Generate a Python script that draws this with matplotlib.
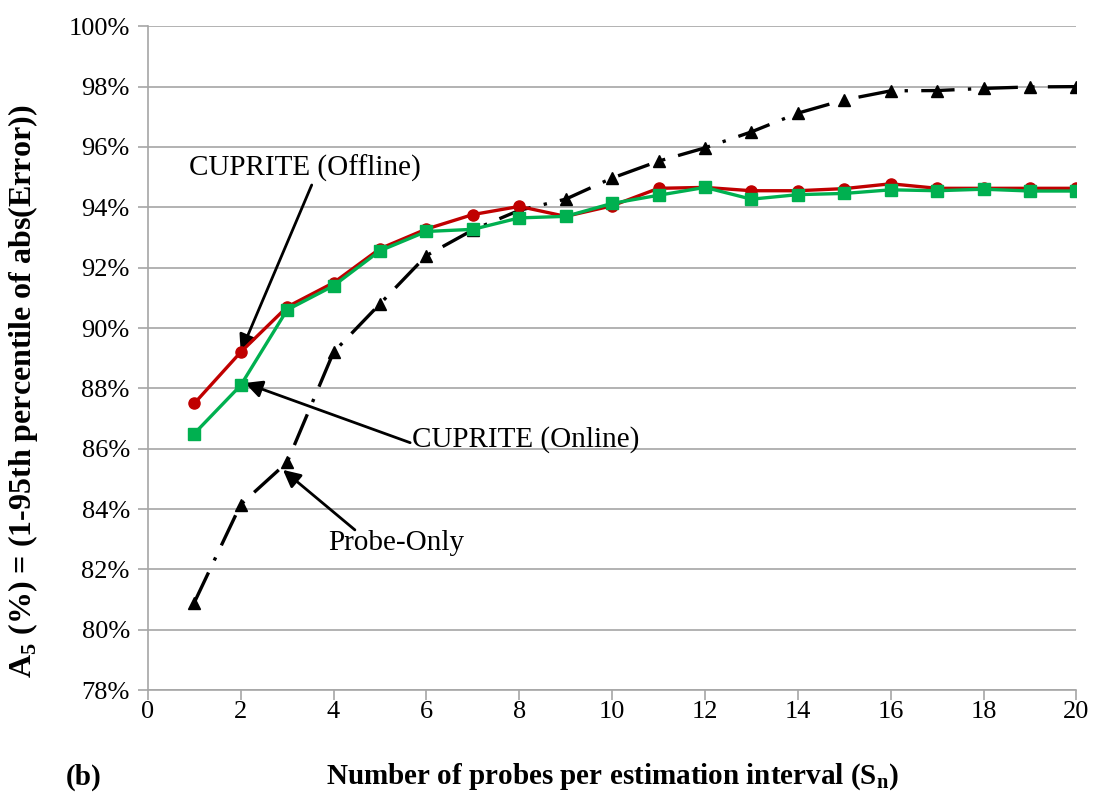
import matplotlib.pyplot as plt
from matplotlib.ticker import FuncFormatter

# Data (x = number of probes, y = A5 in %)
probes = list(range(1, 21))
offline = [87.5, 89.2, 90.7, 91.5, 92.63, 93.28, 93.76, 94.03, 93.7, 94.05,
           94.63, 94.66, 94.55, 94.55, 94.62, 94.78, 94.63, 94.63, 94.63, 94.63]
online = [86.5, 88.1, 90.6, 91.4, 92.56, 93.2, 93.27, 93.65, 93.7, 94.13,
          94.4, 94.66, 94.27, 94.42, 94.46, 94.58, 94.55, 94.6, 94.54, 94.54]
probe_only = [80.9, 84.15, 85.55, 89.2, 90.8, 92.4, 93.25, 93.9, 94.27, 94.97,
              95.53, 95.97, 96.5, 97.12, 97.56, 97.86, 97.87, 97.94, 97.99, 98.0]

xticks = list(range(0, 21, 2))
yticks = list(range(78, 101, 2))

plt.rcParams['font.family'] = ['Liberation Serif', 'DejaVu Serif']
plt.rcParams['mathtext.fontset'] = 'custom'
plt.rcParams['mathtext.rm'] = 'Liberation Serif'
plt.rcParams['mathtext.bf'] = 'Liberation Serif:bold'

fig = plt.figure(figsize=(10.95, 7.96), dpi=100)
ax = fig.add_axes([0.135, 0.133, 0.848, 0.834])

ax.plot(probes, probe_only, color='black', lw=2.4, linestyle=(0, (10, 4, 1, 4)),
        marker='^', markersize=9, zorder=3)
ax.plot(probes, offline, color='#C00000', lw=2.4, marker='o', markersize=8, zorder=4)
ax.plot(probes, online, color='#00B050', lw=2.4, marker='s', markersize=8, zorder=5)

ax.set_xlim(0, 20)
ax.set_ylim(78, 100)
ax.set_xticks(xticks)
ax.set_yticks(yticks)
ax.yaxis.set_major_formatter(FuncFormatter(lambda v, p: f"{v:.0f}%"))
ax.grid(axis='y', color='#a6a6a6', lw=1.2)
ax.set_axisbelow(True)
for s in ['top', 'right']:
    ax.spines[s].set_visible(False)
for s in ['left', 'bottom']:
    ax.spines[s].set_color('#a6a6a6')
    ax.spines[s].set_linewidth(1.2)
ax.tick_params(axis='both', colors='#a6a6a6', length=7, width=1.2, labelsize=19,
               labelcolor='black')
ax.tick_params(axis='x', pad=1)
ax.tick_params(axis='y', pad=6)

ax.set_ylabel(r'A$_\mathregular{5}$ (%) = (1-95th percentile of abs(Error))',
              fontsize=23, fontweight='bold')
ax.yaxis.set_label_coords(-0.116, 0.45)
ax.set_xlabel(r'Number of probes per estimation interval (S$_\mathbf{n}$)',
              fontsize=21, fontweight='bold')
ax.xaxis.set_label_coords(0.5, -0.108)
fig.text(0.06, 0.023, '(b)', fontsize=21, fontweight='bold', va='center')

arrow = dict(arrowstyle='-|>', color='black', lw=2, mutation_scale=26,
             shrinkA=0, shrinkB=0)
ax.text(3.38, 95.3, 'CUPRITE (Offline)', fontsize=21, ha='center', va='center')
ax.annotate('', xy=(2.0, 89.2), xytext=(3.53, 94.74), arrowprops=arrow)
ax.text(5.7, 86.29, 'CUPRITE (Online)', fontsize=21, ha='left', va='center')
ax.annotate('', xy=(2.09, 88.18), xytext=(5.65, 86.2), arrowprops=arrow)
ax.text(5.35, 82.88, 'Probe-Only', fontsize=21, ha='center', va='center')
ax.annotate('', xy=(2.91, 85.3), xytext=(4.46, 83.31), arrowprops=arrow)

fig.savefig('out.png', dpi=100)
